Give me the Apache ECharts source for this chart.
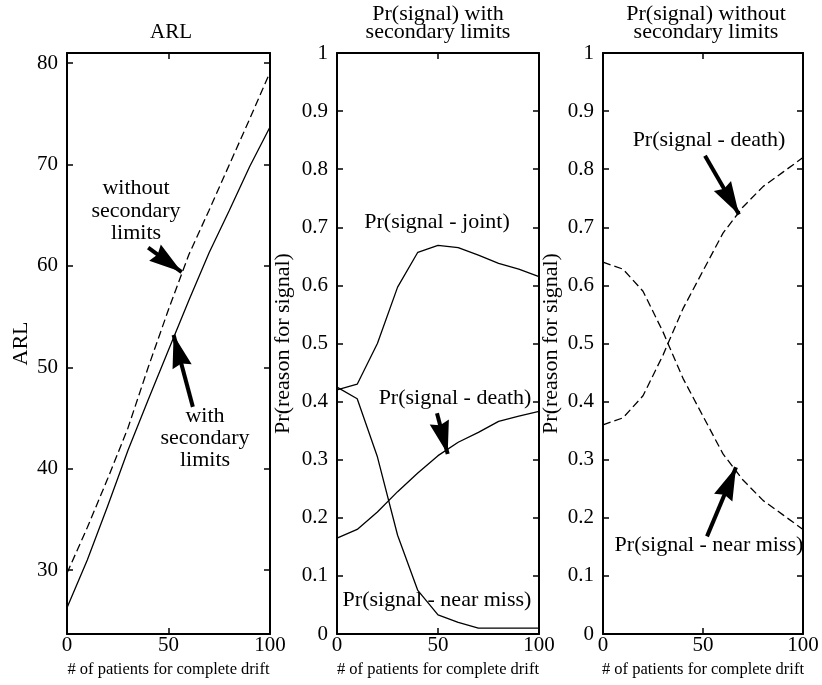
<!DOCTYPE html>
<html>
<head>
<meta charset="utf-8">
<script src="https://cdn.jsdelivr.net/npm/echarts@6/dist/echarts.min.js"></script>
<style>html,body{margin:0;padding:0;background:#fff}#c{width:822px;height:685px}</style>
</head>
<body>
<div id="c"></div>
<script>
// ---- data ----
const xs = [0, 10, 20, 30, 40, 50, 60, 70, 80, 90, 100];
const arlWith    = [26.3, 31.0, 36.3, 41.8, 46.8, 51.7, 56.6, 61.3, 65.5, 69.8, 73.7];
const arlWithout = [29.7, 34.2, 39.0, 44.0, 50.0, 55.7, 61.1, 65.5, 70.0, 74.5, 79.1];
const withJoint  = [0.420, 0.430, 0.500, 0.597, 0.657, 0.669, 0.665, 0.652, 0.638, 0.628, 0.615];
const withDeath  = [0.165, 0.180, 0.210, 0.245, 0.277, 0.307, 0.330, 0.347, 0.366, 0.375, 0.383];
const withNear   = [0.425, 0.405, 0.305, 0.170, 0.075, 0.033, 0.020, 0.010, 0.010, 0.010, 0.010];
const woDeath    = [0.360, 0.372, 0.410, 0.480, 0.560, 0.625, 0.690, 0.735, 0.770, 0.795, 0.820];
const woNear     = [0.640, 0.628, 0.590, 0.520, 0.440, 0.375, 0.310, 0.265, 0.230, 0.205, 0.180];
const woJoint    = [0, 0, 0, 0, 0, 0, 0, 0, 0, 0, 0];
const xTicks = [0, 50, 100];
const arlTicks = [30, 40, 50, 60, 70, 80];
const prTicks = [0, 0.1, 0.2, 0.3, 0.4, 0.5, 0.6, 0.7, 0.8, 0.9, 1];
const titles = ['ARL', 'Pr(signal) with\nsecondary limits', 'Pr(signal) without\nsecondary limits'];
const xName = '# of patients for complete drift';
const yNames = ['ARL', 'Pr(reason for signal)', 'Pr(reason for signal)'];

// ---- chart ----
const FONT = '"Liberation Serif", "DejaVu Serif", serif';
const pairs = (ys) => xs.map((x, i) => [x, ys[i]]);
const grids = [
  {left: 67, top: 53, width: 203, height: 581},
  {left: 337, top: 53, width: 202, height: 581},
  {left: 603, top: 53, width: 200, height: 581}
];
const yRanges = [[23.7, 81, arlTicks], [0, 1, prTicks], [0, 1, prTicks]];
const nameGaps = [35, 43, 41];

const axisLine = {show: true, onZero: false, lineStyle: {color: '#000', width: 2}};
const tick = (vals) => ({show: true, inside: true, length: 6, customValues: vals, lineStyle: {color: '#000', width: 1.5}});
const xAxis = [], yAxis = [];
grids.forEach((g, i) => {
  const base = {type: 'value', gridIndex: i, min: 0, max: 100, splitLine: {show: false}, axisLine};
  xAxis.push(Object.assign({}, base, {
    position: 'bottom', axisTick: tick(xTicks),
    axisLabel: {color: '#000', fontFamily: FONT, fontSize: 21, margin: 1, customValues: xTicks},
    name: xName, nameLocation: 'middle', nameGap: 14,
    nameTextStyle: {color: '#000', fontFamily: FONT, fontSize: 16.5}
  }));
  xAxis.push(Object.assign({}, base, {position: 'top', axisTick: tick(xTicks), axisLabel: {show: false}}));
  const [mn, mx, tv] = yRanges[i];
  const yb = {type: 'value', gridIndex: i, min: mn, max: mx, splitLine: {show: false}, axisLine};
  yAxis.push(Object.assign({}, yb, {
    position: 'left', axisTick: tick(tv),
    axisLabel: {color: '#000', fontFamily: FONT, fontSize: 21, margin: 9, customValues: tv},
    name: yNames[i], nameLocation: 'middle', nameGap: nameGaps[i],
    nameTextStyle: {color: '#000', fontFamily: FONT, fontSize: 22}
  }));
  yAxis.push(Object.assign({}, yb, {position: 'right', axisTick: tick(tv), axisLabel: {show: false}}));
});

const solid = {color: '#000', width: 1.3, type: 'solid'};
const dashed = {color: '#000', width: 1.3, type: [8, 4]};
// arrow head drawn with its tip at the centre of the symbol box, so the tip lands on the end point
const HEAD = 'path://M0,0 M50,50 M25,25 L32.5,50 L25,47.5 L17.5,50 Z';
const arrow = (a, b) => ({
  silent: true, symbol: ['none', HEAD], symbolSize: 66,
  lineStyle: {color: '#000', width: 4, type: 'solid'},
  itemStyle: {color: '#000'},
  label: {show: false}, emphasis: {disabled: true},
  data: [[{coord: a}, {coord: b}]]
});
const line = (gi, ys, style, mark) => {
  const s = {type: 'line', xAxisIndex: gi * 2, yAxisIndex: gi * 2, data: pairs(ys),
    showSymbol: false, symbol: 'none', lineStyle: style, silent: true, z: 3};
  if (mark) s.markLine = mark;
  return s;
};
const series = [
  line(0, arlWithout, dashed, arrow([40, 61.8], [56.5, 59.4])),
  line(0, arlWith, solid, arrow([62, 46.1], [52.5, 53.2])),
  line(1, withJoint, solid),
  line(1, withDeath, solid, arrow([49.5, 0.38], [54.8, 0.31])),
  line(1, withNear, solid),
  line(2, woDeath, dashed, arrow([51, 0.823], [68, 0.722])),
  line(2, woNear, dashed, arrow([52, 0.168], [66.5, 0.287])),
  line(2, woJoint, {color: '#000', width: 2, type: [8, 4]})
];

const txt = (x, y, text, size, lh) => ({
  type: 'text', x, y, silent: true,
  style: {text, fontFamily: FONT, fontSize: size, lineHeight: lh || size + 1,
    align: 'center', verticalAlign: 'middle', fill: '#000'}
});
const graphic = [
  txt(171, 32, titles[0], 21),
  txt(438, 23, titles[1], 22, 18.5),
  txt(706, 23, titles[2], 22, 18.5),
  txt(136, 211, 'without\nsecondary\nlimits', 22, 22.5),
  txt(205, 438, 'with\nsecondary\nlimits', 22, 22),
  txt(437, 222, 'Pr(signal - joint)', 22),
  txt(455, 398, 'Pr(signal - death)', 22),
  txt(437, 600, 'Pr(signal - near miss)', 22),
  txt(709, 140, 'Pr(signal - death)', 22),
  txt(709, 545, 'Pr(signal - near miss)', 22)
];

const chart = echarts.init(document.getElementById('c'), null, {renderer: 'canvas'});
chart.setOption({
  animation: false,
  backgroundColor: '#fff',
  textStyle: {fontFamily: FONT},
  grid: grids,
  xAxis, yAxis, series, graphic
});
</script>
</body>
</html>
